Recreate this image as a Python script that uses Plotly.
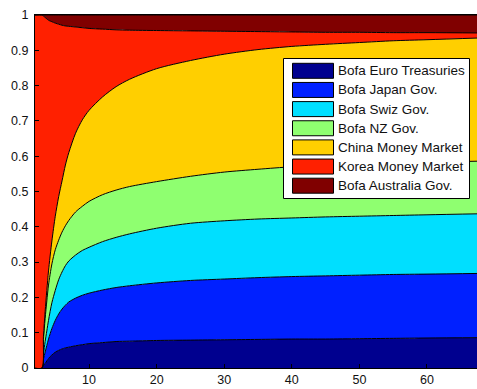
import plotly.graph_objects as go

# Horizon (x) and the share held by each asset at that horizon
horizon = [2, 3, 3.25, 3.5, 3.75, 4, 4.5, 5, 5.5, 6, 6.5, 7, 8, 9, 10, 12, 14, 16, 20, 25,
           30, 35, 40, 45, 50, 55, 60, 68]

euro_treasuries = [0, 0, 0.007, 0.013, 0.020, 0.027, 0.037, 0.045, 0.050, 0.054, 0.057, 0.059,
                   0.063, 0.066, 0.069, 0.072, 0.075, 0.076, 0.078, 0.079, 0.080, 0.081, 0.082,
                   0.082, 0.083, 0.084, 0.085, 0.086]
japan_gov = [0, 0, 0.018, 0.032, 0.044, 0.055, 0.075, 0.090, 0.103, 0.113, 0.121, 0.128, 0.135,
             0.140, 0.143, 0.149, 0.153, 0.157, 0.163, 0.169, 0.172, 0.175, 0.177, 0.179, 0.180,
             0.181, 0.181, 0.182]
swiz_gov = [0, 0, 0.015, 0.030, 0.041, 0.053, 0.073, 0.085, 0.097, 0.105, 0.112, 0.116, 0.122,
            0.127, 0.130, 0.137, 0.142, 0.147, 0.155, 0.162, 0.165, 0.166, 0.166, 0.167, 0.167,
            0.167, 0.168, 0.169]
nz_gov = [0, 0, 0.040, 0.065, 0.085, 0.100, 0.110, 0.115, 0.112, 0.113, 0.113, 0.115, 0.122,
          0.125, 0.130, 0.133, 0.134, 0.134, 0.132, 0.133, 0.138, 0.141, 0.145, 0.146, 0.148,
          0.149, 0.149, 0.149]
china_mm = [0, 0, 0.010, 0.020, 0.030, 0.040, 0.065, 0.095, 0.123, 0.145, 0.172, 0.192, 0.223,
            0.245, 0.258, 0.277, 0.293, 0.304, 0.320, 0.328, 0.334, 0.339, 0.341, 0.343, 0.344,
            0.346, 0.347, 0.349]
korea_mm = [1.0, 1.0, 0.907, 0.833, 0.769, 0.710, 0.621, 0.547, 0.489, 0.441, 0.394, 0.358,
            0.301, 0.261, 0.232, 0.192, 0.161, 0.139, 0.108, 0.084, 0.065, 0.051, 0.041, 0.034,
            0.029, 0.023, 0.020, 0.014]
australia_gov = [0, 0, 0.003, 0.007, 0.011, 0.015, 0.019, 0.023, 0.026, 0.029, 0.031, 0.032,
                 0.034, 0.036, 0.038, 0.040, 0.042, 0.043, 0.044, 0.045, 0.046, 0.047, 0.048,
                 0.049, 0.049, 0.050, 0.050, 0.051]

names = ["Bofa Euro Treasuries", "Bofa Japan Gov.", "Bofa Swiz Gov.", "Bofa NZ Gov.",
         "China Money Market", "Korea Money Market", "Bofa Australia Gov."]
series = [euro_treasuries, japan_gov, swiz_gov, nz_gov, china_mm, korea_mm, australia_gov]
colors = ["#00008F", "#0020FF", "#00DFFF", "#8FFF70", "#FFCF00", "#FF2000", "#800000"]

x_tick_vals = [10, 20, 30, 40, 50, 60]
y_tick_vals = [0, 0.1, 0.2, 0.3, 0.4, 0.5, 0.6, 0.7, 0.8, 0.9, 1]
y_tick_text = ["0", "0.1", "0.2", "0.3", "0.4", "0.5", "0.6", "0.7", "0.8", "0.9", "1"]

W, H = 477, 389
M_L, M_R, M_T, M_B = 35, 0, 15, 21
PW, PH = W - M_L - M_R, H - M_T - M_B

fig = go.Figure()
for name, vals, col in zip(names, series, colors):
    fig.add_trace(go.Scatter(
        x=horizon, y=vals, name=name, mode="lines",
        stackgroup="one", line=dict(color="black", width=1, shape="spline", smoothing=0.8),
        fillcolor=col, showlegend=False, hoverinfo="x+y+name",
    ))


def px_x(p):
    return (p - M_L) / PW


def px_y(p):
    return (H - M_B - p) / PH


tick_font = dict(family="Liberation Sans, Arial, sans-serif", size=12.5, color="#111111")
legend_font = dict(family="Liberation Sans, Arial, sans-serif", size=13.5, color="#111111")

# Legend box drawn in paper coordinates
shapes = [dict(type="rect", xref="paper", yref="paper",
               x0=px_x(283.5), x1=px_x(469.5), y0=px_y(198.5), y1=px_y(58.5),
               fillcolor="white", line=dict(color="black", width=1), layer="above")]
annotations = []
row_h = 19.15
for i, (name, col) in enumerate(zip(names, colors)):
    cy = 70.8 + i * row_h
    shapes.append(dict(type="rect", xref="paper", yref="paper",
                       x0=px_x(292.5), x1=px_x(333.5), y0=px_y(cy + 7.5), y1=px_y(cy - 7.5),
                       fillcolor=col, line=dict(color="black", width=1), layer="above"))
    annotations.append(dict(xref="paper", yref="paper", x=px_x(335.5), y=px_y(cy),
                            text=name, showarrow=False, xanchor="left", yanchor="middle",
                            font=legend_font))

fig.update_layout(
    width=W, height=H,
    margin=dict(l=M_L, r=M_R, t=M_T, b=M_B, pad=0),
    paper_bgcolor="white", plot_bgcolor="white",
    shapes=shapes, annotations=annotations,
    xaxis=dict(range=[2, 67.4], tickvals=x_tick_vals, ticks="inside", ticklen=4,
               tickcolor="black", showgrid=False, zeroline=False, showline=True,
               linecolor="black", linewidth=1, mirror=True, tickfont=tick_font),
    yaxis=dict(range=[0, 1], tickvals=y_tick_vals, ticktext=y_tick_text, ticks="inside",
               ticklen=4, tickcolor="black", showgrid=False, zeroline=False, showline=True,
               linecolor="black", linewidth=1, mirror=True, tickfont=tick_font,
               ticklabelstandoff=3),
    showlegend=False,
)

fig.write_html("out.html")
